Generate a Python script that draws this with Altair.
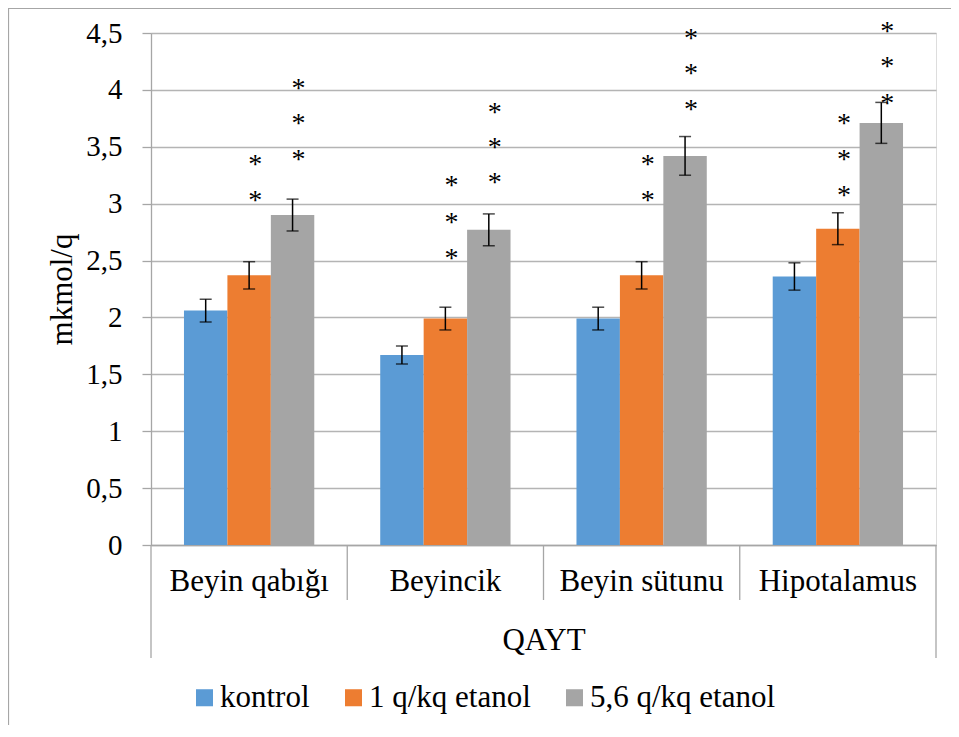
import altair as alt
import pandas as pd

categories = ["Beyin qabığı", "Beyincik", "Beyin sütunu", "Hipotalamus"]
series = ["kontrol", "1 q/kq etanol", "5,6 q/kq etanol"]
kontrol = [2.06, 1.67, 1.99, 2.36]
etanol_1 = [2.37, 1.99, 2.37, 2.78]
etanol_56 = [2.90, 2.77, 3.42, 3.71]
err_kontrol = [0.10, 0.08, 0.10, 0.12]
err_1 = [0.12, 0.10, 0.12, 0.14]
err_56 = [0.14, 0.14, 0.17, 0.18]

# significance asterisks (category index, series index, vertical level)
star_cat = [0, 0, 0, 0, 0, 1, 1, 1, 1, 1, 1, 2, 2, 2, 2, 2, 3, 3, 3, 3, 3, 3]
star_ser = [1, 1, 2, 2, 2, 1, 1, 1, 2, 2, 2, 1, 1, 2, 2, 2, 1, 1, 1, 2, 2, 2]
star_y = [3.39, 3.08, 4.06, 3.75, 3.44, 3.21, 2.88, 2.57, 3.85, 3.54, 3.23,
          3.39, 3.08, 4.50, 4.19, 3.88, 3.75, 3.44, 3.12, 4.56, 4.25, 3.93]

y_ticks = [0, 0.5, 1, 1.5, 2, 2.5, 3, 3.5, 4, 4.5]
colors = ["#5B9BD5", "#ED7D31", "#A5A5A5"]
FONT = "'Times New Roman', 'Liberation Serif', Tinos, serif"
W, H = 785, 512

rows = []
for vals, errs, s in zip([kontrol, etanol_1, etanol_56], [err_kontrol, err_1, err_56], series):
    for c, v, e in zip(categories, vals, errs):
        rows.append({"cat": c, "series": s, "value": v, "err": e})
df = pd.DataFrame(rows)

stars = pd.DataFrame({
    "cat": [categories[i] for i in star_cat],
    "series": [series[i] for i in star_ser],
    "y": star_y,
})

xscale = alt.Scale(domain=categories, paddingInner=0.336, paddingOuter=0.168)
yscale = alt.Scale(domain=[0, 4.5], nice=False)
cscale = alt.Scale(domain=series, range=colors)

x_enc = alt.X("cat:N", scale=xscale, sort=categories,
              axis=alt.Axis(title="QAYT", labelAngle=0, ticks=False, domain=True,
                            domainColor="#a6a6a6", domainWidth=1.3, labelFont=FONT, labelFontSize=31,
                            labelColor="black", labelPadding=21, labelLimit=300, titleFont=FONT,
                            titleFontSize=31, titleFontWeight="normal", titleColor="black",
                            titlePadding=29))
xoff = alt.XOffset("series:N", sort=series, scale=alt.Scale(domain=series))
x_plain = alt.X("cat:N", scale=xscale, sort=categories)

bars = alt.Chart(df).mark_bar().encode(
    x=x_enc,
    xOffset=xoff,
    y=alt.Y("value:Q", scale=yscale,
            axis=alt.Axis(title="mkmol/q", values=y_ticks, format=".1~f",
                          labelExpr="replace(datum.label, '.', ',')",
                          grid=True, gridColor="#b4b4b4", gridWidth=1.3,
                          domainColor="#a6a6a6", domainWidth=1.3, tickColor="#a6a6a6",
                          tickSize=9, tickWidth=1.3,
                          labelFont=FONT, labelFontSize=29, labelColor="black",
                          labelPadding=20, titleFont=FONT, titleFontSize=31,
                          titleFontWeight="normal", titleColor="black",
                          titleX=-89, titleBaseline="middle")),
    color=alt.Color("series:N", scale=cscale, sort=series,
                    legend=alt.Legend(title=None, orient="none", legendX=38, legendY=649,
                                      direction="horizontal", symbolType="square",
                                      symbolSize=290, symbolStrokeWidth=0,
                                      labelFont=FONT, labelFontSize=31, labelColor="black",
                                      labelLimit=400, labelOffset=0, columnPadding=28,
                                      padding=0)),
)

err_base = alt.Chart(df).transform_calculate(
    lo="datum.value - datum.err", hi="datum.value + datum.err"
)
err_rule = err_base.mark_rule(color="black", strokeWidth=1.5).encode(
    x=x_plain, xOffset=xoff,
    y=alt.Y("lo:Q", scale=yscale), y2="hi:Q",
)
err_caps = err_base.transform_fold(["lo", "hi"], as_=["end", "pos"]).mark_tick(
    color="black", orient="horizontal", size=12, thickness=1.5
).encode(
    x=x_plain, xOffset=xoff,
    y=alt.Y("pos:Q", scale=yscale),
)

star_text = alt.Chart(stars).mark_text(
    text="*", font=FONT, fontSize=28, color="black", dx=6, dy=6, baseline="middle"
).encode(
    x=x_plain, xOffset=xoff,
    y=alt.Y("y:Q", scale=yscale),
)

main = alt.layer(bars, err_rule, err_caps, star_text)

# category separators under the axis (decoration)
sep_df = pd.DataFrame({"b": [0, 1, 2, 3, 4], "outer": [1, 0, 0, 0, 1]})
sep_x = alt.X("b:Q", scale=alt.Scale(domain=[0, 4], nice=False, zero=False), axis=None)
seps_inner = alt.Chart(sep_df).transform_filter("datum.outer == 0").mark_rule(
    color="#a6a6a6", strokeWidth=1.3).encode(x=sep_x, y=alt.value(H), y2=alt.value(H + 55))
seps_outer = alt.Chart(sep_df).transform_filter("datum.outer == 1").mark_rule(
    color="#a6a6a6", strokeWidth=1.3).encode(x=sep_x, y=alt.value(H), y2=alt.value(H + 113))
seps = alt.layer(seps_inner, seps_outer)

frame_df = pd.DataFrame({"k": ["left", "top"]})
frame_left = alt.Chart(frame_df.iloc[[0]]).mark_rule(color="#a6a6a6", strokeWidth=1.2).encode(
    x=alt.value(-142.5), y=alt.value(-25), y2=alt.value(H + 200)
)
frame_top = alt.Chart(frame_df.iloc[[1]]).mark_rule(color="#a6a6a6", strokeWidth=1.2).encode(
    x=alt.value(-143), x2=alt.value(W + 20), y=alt.value(-24.5)
)

chart = alt.layer(main, seps, frame_left, frame_top).resolve_scale(x="independent").properties(
    width=W, height=H,
    padding={"left": 143, "top": 25, "right": 15, "bottom": 180},
    autosize=alt.AutoSizeParams(type="none"),
).configure_view(stroke=None).configure(background="white")

chart.save("out.html", embed_options={"renderer": "svg", "actions": False})
